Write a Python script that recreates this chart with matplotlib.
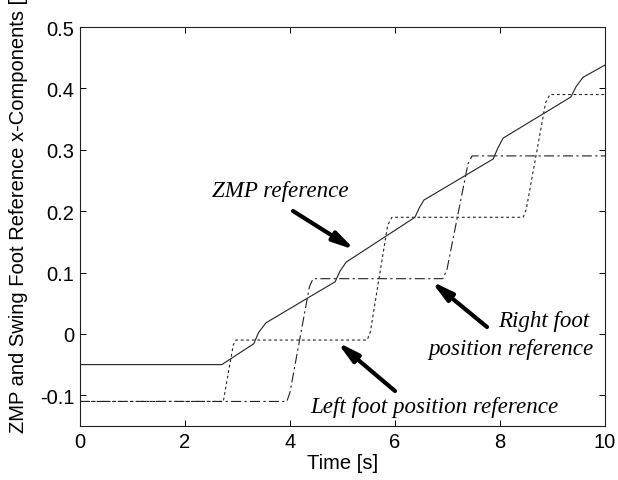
import matplotlib
matplotlib.use("Agg")
import matplotlib.pyplot as plt

# ---- data ----
zmp_t = [0, 2.70, 3.31, 3.40, 3.54, 4.86, 4.95, 5.07, 6.38, 6.46, 6.55, 7.87, 7.96, 8.06, 9.35, 9.45, 9.58, 10.0]
zmp_y = [-0.05, -0.05, -0.016, 0.002, 0.018, 0.085, 0.102, 0.117, 0.19, 0.205, 0.218, 0.285, 0.303, 0.319, 0.386, 0.403, 0.418, 0.438]

left_t = [0, 2.73, 2.77, 2.92, 2.97, 5.47, 5.53, 5.86, 5.94, 8.44, 8.50, 8.87, 8.95, 10.0]
left_y = [-0.11, -0.11, -0.09, -0.018, -0.01, -0.01, 0.003, 0.177, 0.19, 0.19, 0.203, 0.377, 0.39, 0.39]

right_t = [0, 3.94, 4.00, 4.37, 4.44, 6.91, 6.99, 7.39, 7.47, 10.0]
right_y = [-0.11, -0.11, -0.095, 0.077, 0.09, 0.09, 0.105, 0.277, 0.29, 0.29]

xticks = [0, 2, 4, 6, 8, 10]
yticks = [-0.1, 0, 0.1, 0.2, 0.3, 0.4, 0.5]
ytick_labels = ["-0.1", "0", "0.1", "0.2", "0.3", "0.4", "0.5"]

xlabel = "Time [s]"
ylabel = "ZMP and Swing Foot Reference x-Components [m]"

W, H = 618, 481
fig = plt.figure(figsize=(W / 100, H / 100), dpi=100)
fig.patch.set_facecolor("white")

L, R, T, B = 80, 605, 28, 427
ax = fig.add_axes([L / W, 1 - B / H, (R - L) / W, (B - T) / H])

ax.plot(zmp_t, zmp_y, color="#222222", lw=0.8, linestyle="-")
ax.plot(left_t, left_y, color="#222222", lw=0.8, linestyle=(0, (2.5, 2.5)))
ax.plot(right_t, right_y, color="#222222", lw=0.8, linestyle=(0, (9, 3, 2, 3)))

ax.set_xlim(0, 10)
ax.set_ylim(-0.15, 0.5)
ax.set_xticks(xticks)
ax.set_xticklabels([str(v) for v in xticks])
ax.set_yticks(yticks)
ax.set_yticklabels(ytick_labels)

for lab in ax.get_xticklabels() + ax.get_yticklabels():
    lab.set_fontfamily("Liberation Sans")
    lab.set_fontsize(14.5)

ax.tick_params(direction="in", length=4, width=0.7, top=True, right=True,
               pad=4, colors="black")
for s in ax.spines.values():
    s.set_linewidth(0.8)
    s.set_color("#222222")

ax.set_xlabel(xlabel, fontfamily="Liberation Sans", fontsize=14.5, labelpad=2)

fig.text(19 / W, 1 - 433 / H, ylabel, rotation=90, ha="center", va="bottom",
         fontfamily="Liberation Sans", fontsize=14.5)

def px(x, y):
    return (x / W, 1 - y / H)

ann_font = dict(family="Liberation Serif", style="italic", size=16.6, color="black")
fig.text(*px(212, 197), "ZMP reference", ha="left", va="baseline", **ann_font)
fig.text(*px(498, 327), "Right foot", ha="left", va="baseline", **ann_font)
fig.text(*px(428, 355), "position reference", ha="left", va="baseline", **ann_font)
fig.text(*px(310, 413), "Left foot position reference", ha="left", va="baseline", **ann_font)

arrow_style = dict(arrowstyle="-|>,head_length=0.9,head_width=0.22", lw=3.0,
                   color="black", shrinkA=0, shrinkB=0, mutation_scale=14)
for tail, tip in [((293, 212), (355, 251)), ((487, 328), (431, 282)), ((395, 392), (337, 343))]:
    ax.annotate("", xy=px(*tip), xytext=px(*tail), xycoords="figure fraction",
                textcoords="figure fraction", arrowprops=arrow_style)

fig.savefig("out.png", dpi=100, facecolor="white")
